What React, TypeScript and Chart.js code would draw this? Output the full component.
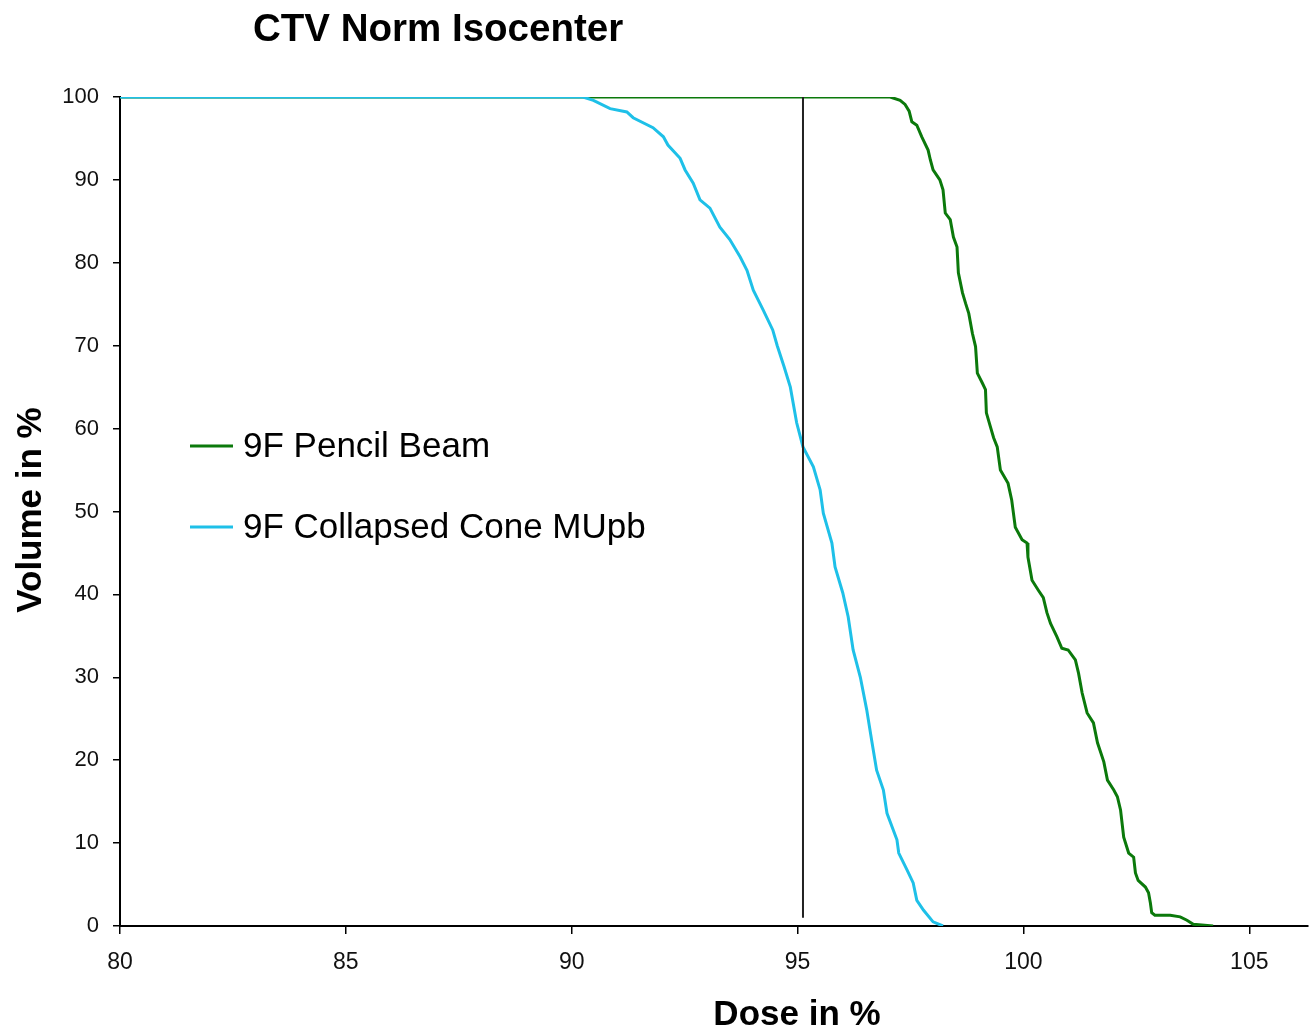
import React, { useEffect, useRef } from "react";
import { Chart, registerables } from "chart.js";

Chart.register(...registerables);

const chartTitle = "CTV Norm Isocenter";
const xAxisTitle = "Dose in %";
const yAxisTitle = "Volume in %";

const pbLabel = "9F Pencil Beam";
const ccLabel = "9F Collapsed Cone MUpb";

const pbColor = "#0b790b";
const ccColor = "#1ec0e8";
const refColor = "#222222";

// 9F Pencil Beam DVH (dose %, volume %)
const pbDose = [
  80, 97.05, 97.27, 97.38, 97.47, 97.53, 97.64, 97.75, 97.89, 97.94, 98.0, 98.15, 98.22, 98.27, 98.38,
  98.45, 98.53, 98.56, 98.65, 98.72, 98.79, 98.87, 98.94, 98.98, 99.09, 99.16, 99.18, 99.27, 99.34,
  99.42, 99.49, 99.66, 99.74, 99.82, 99.97, 100.08, 100.1, 100.19, 100.33, 100.44, 100.52, 100.6,
  100.74, 100.85, 100.99, 101.15, 101.22, 101.3, 101.41, 101.55, 101.64, 101.78, 101.86, 102.0,
  102.08, 102.15, 102.22, 102.33, 102.44, 102.48, 102.54, 102.7, 102.77, 102.81, 102.84, 102.91,
  103.25, 103.47, 103.62, 103.76, 104.2,
];
const pbVolume = [
  100, 100, 99.6, 99.1, 98.3, 97.0, 96.6, 95.2, 93.6, 92.4, 91.2, 90.0, 88.8, 86.0, 85.2,
  83.1, 81.9, 78.8, 76.4, 75.1, 73.9, 71.5, 69.9, 66.7, 65.5, 64.7, 61.9, 60.2, 58.9,
  57.8, 55.0, 53.4, 51.4, 48.1, 46.6, 46.2, 44.5, 41.7, 40.5, 39.6, 37.8, 36.5,
  34.9, 33.5, 33.3, 32.1, 30.5, 28.1, 25.7, 24.5, 22.1, 19.8, 17.6, 16.4,
  15.6, 14.0, 10.7, 8.8, 8.3, 6.4, 5.5, 4.7, 4.0, 2.8, 1.6, 1.3,
  1.3, 1.1, 0.7, 0.2, 0,
];

// 9F Collapsed Cone MUpb DVH (dose %, volume %)
const ccDose = [
  80, 89.45, 90.25, 90.48, 90.85, 91.22, 91.36, 91.8, 92.03, 92.13, 92.4, 92.51, 92.69, 92.84,
  93.06, 93.28, 93.5, 93.73, 93.88, 94.02, 94.24, 94.45, 94.55, 94.7, 94.84, 94.98, 95.12, 95.35,
  95.5, 95.57, 95.76, 95.83, 96.0, 96.12, 96.23, 96.39, 96.53, 96.64, 96.75, 96.9, 96.98, 97.2,
  97.24, 97.42, 97.56, 97.64, 97.79, 98.0, 98.22,
];
const ccVolume = [
  100, 100, 100, 99.6, 98.6, 98.2, 97.5, 96.3, 95.2, 94.2, 92.6, 91.2, 89.6, 87.6,
  86.6, 84.3, 82.8, 80.7, 79.1, 76.7, 74.3, 71.9, 70.0, 67.5, 65.0, 60.7, 57.8, 55.4,
  52.6, 49.8, 46.2, 43.3, 40.2, 37.3, 33.3, 30.0, 26.1, 22.4, 18.8, 16.4, 13.6, 10.4,
  8.8, 6.8, 5.2, 3.1, 1.9, 0.5, 0,
];

// Vertical reference line
const refDose = [95.12, 95.12];
const refVolume = [100, 1];

const xMin = 80;
const xMax = 106.3;
const xStep = 5;
const yMin = 0;
const yMax = 100;
const yStep = 10;

const toPoints = (xs: number[], ys: number[]) => xs.map((x, i) => ({ x, y: ys[i] }));

const FONT = "'Liberation Sans', Arial, Helvetica, sans-serif";

const textPlugin = {
  id: "customTexts",
  afterDraw(chart: any) {
    const ctx = chart.ctx as CanvasRenderingContext2D;
    ctx.save();
    ctx.fillStyle = "#000";
    // Title
    ctx.font = `bold 38.5px ${FONT}`;
    ctx.textAlign = "left";
    ctx.textBaseline = "alphabetic";
    ctx.fillText(chartTitle, 253, 41);

    // X axis title
    ctx.font = `bold 35px ${FONT}`;
    ctx.textAlign = "center";
    ctx.fillText(xAxisTitle, 797, 1025);

    // Y axis title
    ctx.save();
    ctx.translate(41, 510);
    ctx.rotate(-Math.PI / 2);
    ctx.textAlign = "center";
    ctx.fillText(yAxisTitle, 0, 0);
    ctx.restore();

    // Legend
    const items = [
      { label: pbLabel, color: pbColor, y: 446 },
      { label: ccLabel, color: ccColor, y: 527 },
    ];
    ctx.font = `35px ${FONT}`;
    ctx.textAlign = "left";
    ctx.textBaseline = "middle";
    for (const it of items) {
      ctx.strokeStyle = it.color;
      ctx.lineWidth = 3;
      ctx.beginPath();
      ctx.moveTo(190, it.y);
      ctx.lineTo(233, it.y);
      ctx.stroke();
      ctx.fillStyle = "#000";
      ctx.fillText(it.label, 243, it.y + 1);
    }
    ctx.restore();
  },
};

export default function App() {
  const canvasRef = useRef<HTMLCanvasElement | null>(null);

  useEffect(() => {
    if (!canvasRef.current) return;
    const chart = new Chart(canvasRef.current, {
      type: "line",
      data: {
        datasets: [
          {
            label: pbLabel,
            data: toPoints(pbDose, pbVolume),
            borderColor: pbColor,
            backgroundColor: pbColor,
            borderWidth: 3,
            pointRadius: 0,
            tension: 0,
            fill: false,
            order: 3,
          },
          {
            label: ccLabel,
            data: toPoints(ccDose, ccVolume),
            borderColor: ccColor,
            backgroundColor: ccColor,
            borderWidth: 3,
            pointRadius: 0,
            tension: 0,
            fill: false,
            order: 2,
          },
          {
            label: "reference",
            data: toPoints(refDose, refVolume),
            borderColor: refColor,
            backgroundColor: refColor,
            borderWidth: 2,
            pointRadius: 0,
            fill: false,
            order: 1,
          },
        ],
      },
      options: {
        responsive: false,
        animation: false,
        layout: { padding: { top: 97, right: 1, left: 0, bottom: 0 } },
        plugins: {
          legend: { display: false },
          title: { display: false },
          tooltip: { enabled: false },
        },
        scales: {
          x: {
            type: "linear",
            min: xMin,
            max: xMax,
            afterFit(scale: any) {
              scale.height = 102;
            },
            ticks: {
              stepSize: xStep,
              includeBounds: false,
              padding: 15,
              color: "#111",
              font: { family: FONT, size: 23 },
              maxRotation: 0,
            },
            grid: {
              display: true,
              drawOnChartArea: false,
              drawTicks: true,
              tickLength: 8,
              color: "#000",
              lineWidth: 1.5,
            },
            border: { display: true, color: "#000", width: 2 },
          },
          y: {
            type: "linear",
            min: yMin,
            max: yMax,
            afterFit(scale: any) {
              scale.width = 120;
            },
            ticks: {
              stepSize: yStep,
              padding: 14,
              color: "#111",
              font: { family: FONT, size: 22 },
            },
            grid: {
              display: true,
              drawOnChartArea: false,
              drawTicks: true,
              tickLength: 7,
              color: "#000",
              lineWidth: 1.5,
            },
            border: { display: true, color: "#000", width: 2 },
          },
        },
      },
      plugins: [textPlugin],
    } as any);
    return () => chart.destroy();
  }, []);

  return (
    <div
      style={{
        position: "fixed",
        left: 0,
        top: 0,
        width: 1309,
        height: 1028,
        background: "#fff",
        overflow: "hidden",
      }}
    >
      <canvas ref={canvasRef} width={1309} height={1028} style={{ display: "block" }} />
    </div>
  );
}
